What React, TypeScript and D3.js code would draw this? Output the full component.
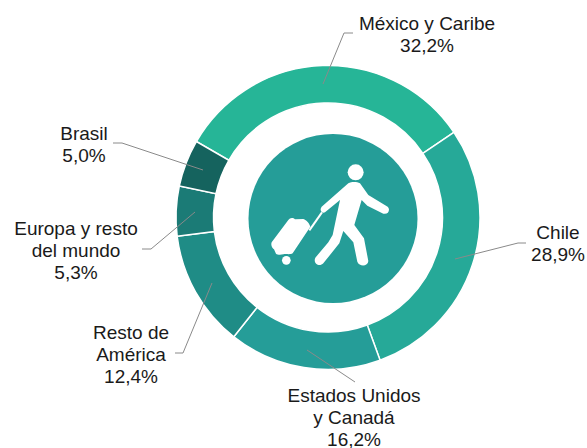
import React from "react";
import * as d3 from "d3";

const categories = ["México y Caribe", "Chile", "Estados Unidos y Canadá", "Resto de América", "Europa y resto del mundo", "Brasil"];
const values = [32.2, 28.9, 16.2, 12.4, 5.3, 5.0];
const colors = ["#26B597", "#26A998", "#259D98", "#1F8C86", "#1B7B76", "#15635E"];
const labelLines = [["México y Caribe", "32,2%"], ["Chile", "28,9%"], ["Estados Unidos", "y Canadá", "16,2%"], ["Resto de", "América", "12,4%"], ["Europa y resto", "del mundo", "5,3%"], ["Brasil", "5,0%"]];
const labelPos = [[427, 30], [558, 239], [354, 402], [131, 339], [76, 235], [84, 140]];
const leaders = [
  [[323, 84], [344, 33], [353, 33]],
  [[455, 259], [518, 243], [526, 243]],
  [[307, 350], [355, 382]],
  [[212, 283], [183, 353], [175, 353]],
  [[195, 212], [151, 249], [142, 249]],
  [[203, 170], [122, 143], [113, 143]],
];

const cx = 328, cy = 217.5, R = 152, r = 114.5;
const start = -60 * Math.PI / 180;

export default function App() {
  const pie = d3.pie<number>().sort(null).startAngle(start).endAngle(start + 2 * Math.PI);
  const arc = d3.arc<d3.PieArcDatum<number>>().innerRadius(r).outerRadius(R);
  const line = d3.line();
  return (
    <svg width={587} height={448} style={{ position: "absolute", left: 0, top: 0, background: "#fff" }}>
      <g transform={`translate(${cx},${cy})`}>
        {pie(values).map((d, i) => (
          <path key={categories[i]} d={arc(d) || ""} fill={colors[i]} stroke="#fff" strokeWidth={1.5} />
        ))}
      </g>
      <circle cx={333} cy={218.5} r={84.5} fill="#259D98" />
      <g transform="translate(260,155) scale(0.3333)">
        <g fill="#fff">
          <circle cx={287} cy={52} r={24} />
          <path d="M265 85 C275 80 290 80 300 85 L325 120 L383 155 C392 163 385 180 370 176 L322 152 L305 135 L283 210 L312 250 L325 318 C324 335 298 336 292 320 L280 262 L250 228 L238 265 L190 325 C178 338 158 325 166 308 L205 262 L218 240 L240 135 L195 172 C186 176 177 166 185 155 Z" />
          <path d="M35 262 L85 195 C90 187 100 187 105 193 L130 192 C140 195 148 205 151 215 L98 295 C90 300 80 296 70 298 C62 300 52 300 48 296 L42 283 C36 280 32 270 35 262 Z" />
        </g>
        <path d="M186 172 L148 226" stroke="#fff" strokeWidth={6} fill="none" />
        <circle cx={79} cy={316} r={17} fill="#259D98" />
        <circle cx={79} cy={316} r={13} fill="#fff" />
      </g>
      {leaders.map((pts, i) => (
        <path key={i} d={line(pts as [number, number][]) || ""} fill="none" stroke="#8a8a8a" strokeWidth={1} />
      ))}
      {labelLines.map((lines, i) => (
        <text key={i} textAnchor="middle" fontFamily="'Liberation Sans', Arial, sans-serif" fontSize={19} fill="#1a1a1a">
          {lines.map((t, j) => (
            <tspan key={j} x={labelPos[i][0]} y={labelPos[i][1] + j * 22}>{t}</tspan>
          ))}
        </text>
      ))}
    </svg>
  );
}
